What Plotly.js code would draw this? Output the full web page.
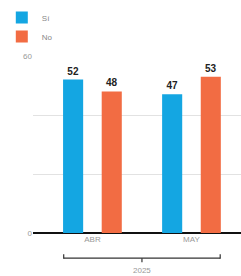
<!DOCTYPE html>
<html>
<head>
<meta charset="utf-8">
<script src="https://cdn.plot.ly/plotly-3.0.1.min.js"></script>
<style>html,body{margin:0;padding:0;background:#fff;}#chart{width:241px;height:276px;}</style>
</head>
<body>
<div id="chart"></div>
<script>
const months = ["ABR", "MAY"];
const yearLabel = "2025";
const seriesNames = ["Sí", "No"];
const siValues = [52, 47];
const noValues = [48, 53];
const yTickVals = [0, 20, 40, 60];
const yTickText = ["0", "", "", "60"];

const colors = ["#14A6E2", "#F26C43"];

const traces = [siValues, noValues].map((vals, i) => ({
  type: "bar",
  name: seriesNames[i],
  x: months,
  y: vals,
  marker: {color: colors[i]},
  text: vals.map(String),
  textposition: "outside",
  cliponaxis: false,
  textfont: {family: "Arial, Liberation Sans, sans-serif", size: 10, color: "#222"},
  texttemplate: "<b>%{y}</b>",
  hoverinfo: "skip"
}));

const layout = {
  width: 241, height: 276,
  margin: {l: 33, r: 0, t: 56, b: 43},
  paper_bgcolor: "#fff", plot_bgcolor: "#fff",
  barmode: "group",
  bargap: 0.22,
  bargroupgap: 0.48,
  showlegend: true,
  legend: {
    x: -0.15, y: 1.30, xanchor: "left", yanchor: "top",
    font: {family: "Arial, Liberation Sans, sans-serif", size: 8, color: "#888"},
    itemwidth: 30, tracegroupgap: 0, traceorder: "normal"
  },
  xaxis: {
    type: "category",
    range: [-0.6, 1.5],
    showgrid: false, zeroline: false, showline: false,
    ticks: "",
    tickfont: {family: "Arial, Liberation Sans, sans-serif", size: 8, color: "#999"},
    fixedrange: true
  },
  yaxis: {
    range: [0, 60],
    tickvals: yTickVals, ticktext: yTickText,
    showgrid: true, gridcolor: "#e2e2e2", gridwidth: 1,
    zeroline: true, zerolinecolor: "#111", zerolinewidth: 1.5,
    showline: false, ticks: "",
    tickfont: {family: "Arial, Liberation Sans, sans-serif", size: 8, color: "#999"},
    fixedrange: true
  },
  shapes: [
    {type: "line", xref: "x", yref: "paper", x0: -0.29, x1: 1.29, y0: -0.142, y1: -0.142, line: {color: "#333", width: 1.2}},
    {type: "line", xref: "x", yref: "paper", x0: -0.29, x1: -0.29, y0: -0.12, y1: -0.145, line: {color: "#333", width: 1.2}},
    {type: "line", xref: "x", yref: "paper", x0: 1.29, x1: 1.29, y0: -0.12, y1: -0.145, line: {color: "#333", width: 1.2}},
    {type: "line", xref: "x", yref: "paper", x0: 0.5, x1: 0.5, y0: -0.142, y1: -0.165, line: {color: "#333", width: 1.2}}
  ],
  annotations: [
    {text: yearLabel, xref: "x", yref: "paper", x: 0.5, y: -0.175, yanchor: "top", showarrow: false,
     font: {family: "Arial, Liberation Sans, sans-serif", size: 8, color: "#999"}}
  ]
};

Plotly.newPlot("chart", traces, layout, {displayModeBar: false, staticPlot: true});
</script>
</body>
</html>
